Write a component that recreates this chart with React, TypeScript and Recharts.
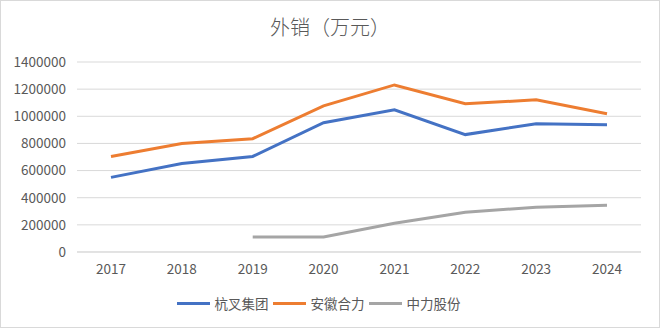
import React from 'react';
import { LineChart, Line, XAxis, YAxis, CartesianGrid, Legend } from 'recharts';

const years = ['2017', '2018', '2019', '2020', '2021', '2022', '2023', '2024'];
const hangcha = [550000, 652000, 704000, 953000, 1048000, 865000, 945000, 938000];
const heli = [704000, 800000, 835000, 1077000, 1231000, 1092000, 1121000, 1019000];
const zhongli = [null, null, 110000, 110000, 212000, 293000, 330000, 344000];
const yTicks = [0, 200000, 400000, 600000, 800000, 1000000, 1200000, 1400000];

const seriesInfo = [
  { key: 'hangcha', name: '杭叉集团', color: '#4472C4' },
  { key: 'heli', name: '安徽合力', color: '#ED7D31' },
  { key: 'zhongli', name: '中力股份', color: '#A5A5A5' },
];

const chartData = years.map((year, i) => ({
  year,
  hangcha: hangcha[i],
  heli: heli[i],
  zhongli: zhongli[i],
}));

const FONT = '"Noto Sans CJK SC", "Liberation Sans", sans-serif';

const LegendContent = () => (
  <div style={{ display: 'flex', justifyContent: 'center', alignItems: 'center', fontFamily: FONT, fontSize: 13.5, color: '#595959' }}>
    {seriesInfo.map((s) => (
      <div key={s.key} style={{ display: 'flex', alignItems: 'center', marginRight: 4 }}>
        <span style={{ display: 'inline-block', width: 33, height: 3, background: s.color, marginRight: 5 }} />
        <span>{s.name}</span>
      </div>
    ))}
  </div>
);

export default function App() {
  return (
    <div style={{ position: 'absolute', left: 0, top: 0, width: 660, height: 328, background: '#fff', boxSizing: 'border-box', border: '1px solid #d9d9d9' }}>
      <div style={{ position: 'absolute', left: 0, right: 0, top: 11, textAlign: 'center', fontFamily: FONT, fontSize: 20, fontWeight: 300, color: '#595959' }}>
        外销（万元）
      </div>
      <div style={{ position: 'absolute', left: -1, top: -1 }}>
        <LineChart width={660} height={328} data={chartData} margin={{ top: 62, right: 19, left: 0, bottom: 20 }}>
          <CartesianGrid stroke="#d9d9d9" vertical={false} />
          <XAxis
            dataKey="year"
            padding={{ left: 34, right: 34 }}
            axisLine={{ stroke: '#d9d9d9' }}
            tickLine={false}
            tickSize={0}
            tickMargin={12}
            tick={{ fill: '#595959', fontSize: 13.5, fontFamily: FONT }}
            height={36}
          />
          <YAxis
            width={77}
            ticks={yTicks}
            domain={[0, 1400000]}
            axisLine={false}
            tickLine={false}
            tickSize={0}
            tickMargin={11}
            interval={0}
            tick={{ fill: '#595959', fontSize: 13.5, fontFamily: FONT }}
          />
          <Legend verticalAlign="bottom" content={<LegendContent />} wrapperStyle={{ bottom: 15 }} />
          {seriesInfo.map((s) => (
            <Line
              key={s.key}
              type="linear"
              dataKey={s.key}
              name={s.name}
              stroke={s.color}
              strokeWidth={3}
              dot={false}
              activeDot={false}
              isAnimationActive={false}
            />
          ))}
        </LineChart>
      </div>
    </div>
  );
}
